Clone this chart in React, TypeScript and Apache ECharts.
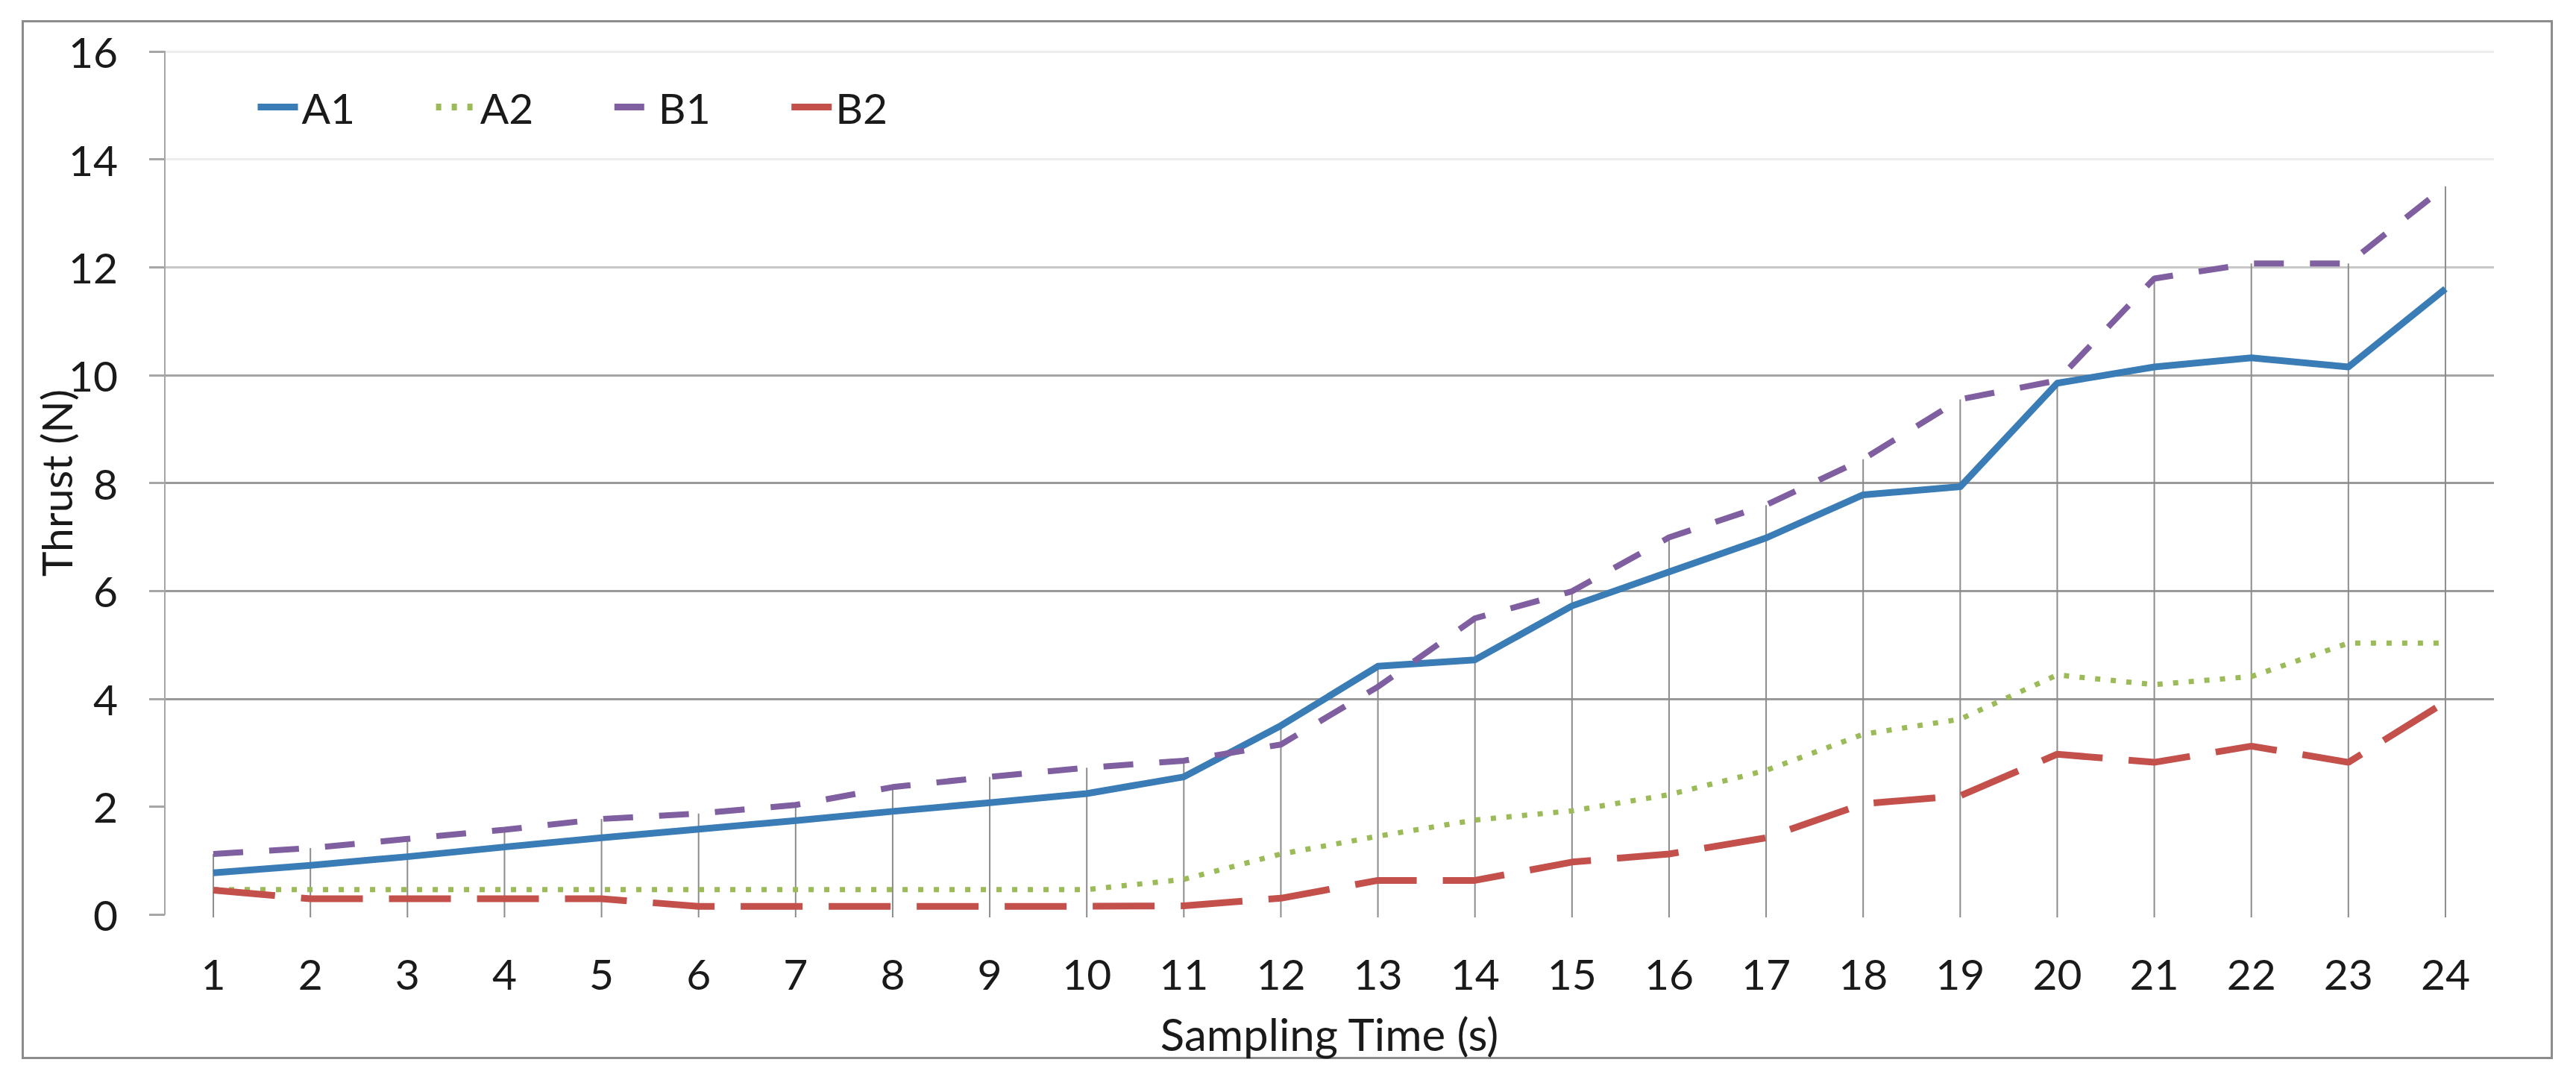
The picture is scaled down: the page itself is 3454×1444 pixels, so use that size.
import React, { useEffect, useRef } from "react";
import * as echarts from "echarts";

const categories = ["1","2","3","4","5","6","7","8","9","10","11","12","13","14","15","16","17","18","19","20","21","22","23","24"];
const seriesNames = ["A1", "A2", "B1", "B2"];
const A1 = [0.77, 0.91, 1.07, 1.25, 1.42, 1.58, 1.74, 1.91, 2.07, 2.24, 2.55, 3.5, 4.6, 4.72, 5.72, 6.35, 6.98, 7.78, 7.93, 9.85, 10.15, 10.32, 10.15, 11.6];
const A2 = [0.46, 0.46, 0.46, 0.46, 0.46, 0.46, 0.46, 0.46, 0.46, 0.46, 0.65, 1.12, 1.45, 1.75, 1.92, 2.22, 2.67, 3.34, 3.62, 4.44, 4.26, 4.41, 5.03, 5.03];
const B1 = [1.12, 1.23, 1.4, 1.57, 1.77, 1.87, 2.03, 2.36, 2.55, 2.72, 2.85, 3.15, 4.22, 5.49, 5.99, 6.99, 7.59, 8.44, 9.55, 9.9, 11.79, 12.07, 12.07, 13.5];
const B2 = [0.45, 0.29, 0.29, 0.29, 0.29, 0.15, 0.15, 0.15, 0.15, 0.15, 0.16, 0.3, 0.63, 0.63, 0.97, 1.12, 1.42, 2.05, 2.2, 2.97, 2.82, 3.12, 2.82, 3.94];
const yTicks = [0, 2, 4, 6, 8, 10, 12, 14, 16];

const FONT = "Lato, 'Liberation Sans', sans-serif";
const TEXT = "#1a1a1a";

export default function App() {
  const ref = useRef<HTMLDivElement>(null);
  useEffect(() => {
    document.body.style.margin = "0";
    const chart = echarts.init(ref.current!, null, { renderer: "svg" });
    const dropData = categories.map((_, i) => [i, Math.max(A1[i], A2[i], B1[i], B2[i])]);
    const lineBase = { type: "line", symbol: "none", showSymbol: false, smooth: false };
    chart.setOption({
      animation: false,
      backgroundColor: "#ffffff",
      textStyle: { fontFamily: FONT },
      grid: { left: 221, right: 110, top: 69, bottom: 218, containLabel: false, outerBoundsMode: "none" },
      legend: {
        data: seriesNames,
        left: 336,
        top: 110,
        itemWidth: 54,
        itemHeight: 12,
        itemGap: 104,
        itemStyle: { opacity: 0 },
        lineStyle: { width: 9, opacity: 1 },
        textStyle: { fontSize: 57, color: TEXT, fontFamily: FONT },
      },
      xAxis: {
        type: "category",
        data: categories,
        boundaryGap: true,
        name: "Sampling Time (s)",
        nameLocation: "middle",
        nameGap: 130,
        nameMoveOverlap: false,
        nameTextStyle: { fontSize: 60, color: TEXT, fontFamily: FONT },
        axisLine: { show: false },
        axisTick: { show: false },
        axisLabel: { fontSize: 57, color: TEXT, margin: 50, interval: 0, fontFamily: FONT },
        splitLine: { show: false },
      },
      yAxis: {
        type: "value",
        min: yTicks[0],
        max: yTicks[yTicks.length - 1],
        interval: 2,
        name: "Thrust (N)",
        nameLocation: "middle",
        nameGap: 118,
        nameMoveOverlap: false,
        nameTextStyle: { fontSize: 57, color: TEXT, fontFamily: FONT },
        axisLine: { show: true, lineStyle: { color: "#a6a6a6", width: 2 } },
        axisTick: { show: true, inside: false, length: 21, lineStyle: { color: "#a6a6a6", width: 3 } },
        axisLabel: { fontSize: 57, color: TEXT, margin: 63, fontFamily: FONT },
        splitLine: {
          show: true,
          lineStyle: {
            width: 3,
            color: ["rgba(0,0,0,0)", "rgba(0,0,0,0)", "#999999", "#999999", "#999999", "#a3a3a3", "#c8c8c8", "#ededed", "#ededed"],
          },
        },
      },
      series: [
        {
          type: "custom",
          name: "drop",
          silent: true,
          z: 1,
          data: dropData,
          encode: { x: 0, y: 1 },
          renderItem: (params: any, api: any) => {
            const top = api.coord([api.value(0), api.value(1)]);
            const bottom = api.coord([api.value(0), 0]);
            return {
              type: "line",
              shape: { x1: top[0], y1: top[1], x2: bottom[0], y2: bottom[1] + 4 },
              style: { stroke: "#8c8c8c", lineWidth: 2 },
            };
          },
        },
        {
          ...lineBase,
          name: "A1",
          data: A1,
          z: 3,
          color: "#3a7cb6",
          lineStyle: { color: "#3a7cb6", width: 9, type: "solid", join: "round" },
        },
        {
          ...lineBase,
          name: "A2",
          data: A2,
          z: 3,
          color: "#9bbb59",
          lineStyle: { color: "#9bbb59", width: 7, type: [7, 14], cap: "butt" },
        },
        {
          ...lineBase,
          name: "B1",
          data: B1,
          z: 4,
          color: "#7f5fa0",
          lineStyle: { color: "#7f5fa0", width: 8, type: [40, 35], cap: "butt" },
        },
        {
          ...lineBase,
          name: "B2",
          data: B2,
          z: 4,
          color: "#c4504c",
          lineStyle: { color: "#c4504c", width: 9, type: [83, 35], cap: "butt" },
        },
      ],
      graphic: [
        {
          type: "rect",
          left: 28,
          top: 26,
          shape: { x: 0, y: 0, width: 3391, height: 1390 },
          style: { fill: "none", stroke: "#8c8c8c", lineWidth: 3 },
          silent: true,
          z: 0,
        },
      ],
    });
    return () => chart.dispose();
  }, []);
  return (
    <div
      ref={ref}
      style={{ position: "absolute", left: 0, top: 0, width: 3454, height: 1444, background: "#fff" }}
    />
  );
}
